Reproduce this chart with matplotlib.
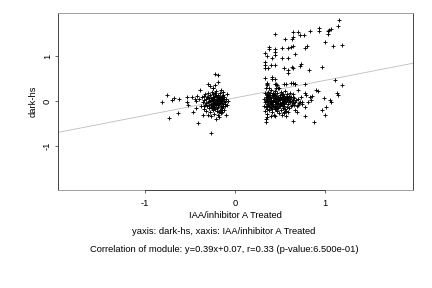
"""Scatter of module genes: dark-hs against IAA/inhibitor A Treated, with fit line."""

import numpy as np
import matplotlib

matplotlib.use("Agg")
import matplotlib.pyplot as plt

plt.rcParams["font.family"] = ["Liberation Sans", "DejaVu Sans"]

# fitted line and labels
slope = 0.39
intercept = 0.07
x_label = "IAA/inhibitor A Treated"
y_label = "dark-hs"
caption_1 = "yaxis: dark-hs, xaxis: IAA/inhibitor A Treated"
caption_2 = "Correlation of module: y=0.39x+0.07, r=0.33 (p-value:6.500e-01)"
x_ticks = [-1, 0, 1]
y_ticks = [-1, 0, 1]
x_range = (-1.97, 1.98)
y_range = (-1.98, 1.96)

# left cluster (x, y)
left_pts = np.array([
    [-0.81, -0.02], [-0.76, 0.13], [-0.74, -0.38], [-0.70, 0.02], [-0.68, 0.07],
    [-0.64, -0.27], [-0.62, 0.04], [-0.54, 0.10], [-0.53, -0.02], [-0.52, -0.08],
    [-0.47, -0.24], [-0.48, 0.10], [-0.45, 0.05], [-0.41, -0.48], [-0.42, 0.12],
    [-0.39, 0.24], [-0.27, -0.72], [-0.22, 0.60], [-0.19, 0.57], [-0.30, 0.39],
    [-0.28, 0.33], [-0.22, 0.36], [-0.19, 0.43], [-0.24, 0.29], [-0.17, 0.17],
    [-0.16, -0.27], [-0.19, -0.30],
    [-0.40, 0.05], [-0.38, -0.10], [-0.37, 0.08], [-0.36, -0.03], [-0.35, 0.12],
    [-0.35, -0.18], [-0.34, 0.02], [-0.33, -0.08], [-0.33, 0.15], [-0.32, -0.22],
    [-0.32, 0.04], [-0.31, -0.12], [-0.31, 0.09], [-0.30, -0.02], [-0.30, -0.30],
    [-0.30, 0.18], [-0.29, 0.06], [-0.29, -0.15], [-0.28, 0.00], [-0.28, -0.25],
    [-0.28, 0.13], [-0.27, -0.06], [-0.27, 0.07], [-0.27, -0.34], [-0.26, 0.03],
    [-0.26, -0.11], [-0.26, 0.20], [-0.25, -0.04], [-0.25, 0.10], [-0.25, -0.20],
    [-0.24, 0.01], [-0.24, -0.08], [-0.24, 0.15], [-0.23, -0.14], [-0.23, 0.05],
    [-0.23, -0.28], [-0.22, -0.02], [-0.22, 0.11], [-0.22, -0.17], [-0.21, 0.03],
    [-0.21, -0.09], [-0.21, 0.22], [-0.20, -0.05], [-0.20, 0.08], [-0.20, -0.23],
    [-0.19, 0.00], [-0.19, -0.13], [-0.19, 0.14], [-0.18, -0.07], [-0.18, 0.05],
    [-0.18, -0.36], [-0.17, -0.02], [-0.17, 0.10], [-0.17, -0.19], [-0.16, 0.02],
    [-0.16, -0.10], [-0.16, 0.24], [-0.15, -0.04], [-0.15, 0.07], [-0.15, -0.25],
    [-0.14, 0.00], [-0.14, -0.14], [-0.14, 0.12], [-0.13, -0.06], [-0.13, 0.04],
    [-0.12, -0.20], [-0.12, 0.09], [-0.11, -0.01], [-0.11, -0.12], [-0.10, 0.05],
    [-0.10, -0.30], [-0.09, -0.08], [-0.09, 0.15], [-0.08, 0.01], [-0.21, -0.40],
    [-0.25, 0.30], [-0.13, 0.20], [-0.36, -0.30], [-0.43, -0.15], [-0.44, 0.00],
    [-0.32, -0.05], [-0.30, 0.08], [-0.29, -0.09], [-0.27, 0.02], [-0.26, -0.16],
    [-0.25, 0.05], [-0.24, -0.12], [-0.23, 0.09], [-0.22, -0.06], [-0.21, 0.13],
    [-0.20, -0.15], [-0.20, 0.02], [-0.19, -0.09], [-0.18, 0.10], [-0.17, -0.05],
    [-0.16, 0.06], [-0.15, -0.15], [-0.14, 0.04], [-0.13, -0.10], [-0.12, 0.00],
    [-0.29, 0.01], [-0.27, -0.13], [-0.23, -0.02], [-0.19, 0.06], [-0.16, -0.20],
    [-0.13, 0.14], [-0.11, -0.06], [-0.34, -0.12], [-0.18, -0.24], [-0.22, 0.18],
])

# right cluster, upper spread
right_sparse = np.array([
    [1.16, 1.80], [1.14, 1.67], [1.07, 1.61], [1.04, 1.58], [1.03, 1.56],
    [1.03, 1.50], [0.93, 1.63], [0.93, 1.57], [0.83, 1.56], [0.77, 1.48],
    [0.70, 1.53], [0.72, 1.47], [0.64, 1.53], [0.65, 1.43], [0.63, 1.39],
    [0.56, 1.39], [0.44, 1.50], [1.00, 1.32], [1.09, 1.22], [1.19, 1.24],
    [0.80, 1.22], [0.78, 1.19], [0.59, 1.18], [0.62, 1.21], [0.65, 1.22],
    [0.52, 1.17], [0.44, 1.16], [0.45, 1.10], [0.38, 1.21], [0.38, 1.16],
    [0.33, 1.06], [0.35, 1.01], [0.41, 0.95], [0.52, 0.95], [0.59, 0.95],
    [0.44, 1.02], [0.67, 1.04], [0.33, 0.87], [0.33, 0.80], [0.40, 0.81],
    [0.37, 0.73], [0.33, 0.74], [0.44, 0.81], [0.54, 0.73], [0.59, 0.69],
    [0.63, 0.76], [0.65, 0.74], [0.59, 0.62], [0.73, 0.82], [0.72, 0.78],
    [0.82, 0.69], [0.97, 0.76], [0.33, 0.52], [0.41, 0.54], [0.41, 0.50],
    [0.44, 0.48], [0.35, 0.39], [0.46, 0.39], [0.54, 0.39], [0.57, 0.39],
    [0.65, 0.41], [0.67, 0.39], [0.78, 0.37], [1.11, 0.47], [1.19, 0.36],
    [1.13, 0.17], [1.15, 0.13], [0.90, 0.24], [0.92, 0.23], [1.06, 0.02],
    [1.07, -0.02], [0.99, 0.07], [1.01, -0.13], [0.97, -0.20], [1.00, -0.31],
    [0.88, -0.46], [0.78, -0.33], [0.64, -0.44], [0.34, -0.41], [0.34, -0.46],
    [0.78, 0.17], [0.79, 0.13], [0.83, 0.10], [0.86, 0.12], [0.84, 0.02],
    [0.81, -0.01], [0.78, -0.13], [0.70, -0.09], [0.67, -0.20], [0.69, -0.24],
    [0.59, -0.24], [0.57, -0.33], [0.55, -0.27], [0.70, 0.24], [0.61, 0.18],
    [0.64, 0.15], [0.44, 0.39], [0.47, 0.36], [0.46, 0.30], [0.35, 0.41],
    [0.35, 0.36], [0.67, 0.38], [0.62, 0.40],
])

# right cluster, dense core
right_core = np.array([
    [0.32, 0.05], [0.32, -0.10], [0.33, 0.18], [0.33, -0.02], [0.33, -0.22],
    [0.34, 0.10], [0.34, -0.14], [0.34, 0.28], [0.35, 0.02], [0.35, -0.07],
    [0.35, 0.15], [0.36, -0.18], [0.36, 0.07], [0.36, -0.28], [0.37, -0.03],
    [0.37, 0.21], [0.37, 0.12], [0.38, -0.11], [0.38, 0.04], [0.38, -0.20],
    [0.39, 0.17], [0.39, -0.05], [0.39, 0.09], [0.40, -0.15], [0.40, 0.00],
    [0.40, 0.25], [0.41, -0.09], [0.41, 0.13], [0.41, -0.24], [0.42, 0.03],
    [0.42, -0.02], [0.42, 0.19], [0.43, -0.13], [0.43, 0.08], [0.43, -0.30],
    [0.44, -0.06], [0.44, 0.14], [0.44, 0.01], [0.45, -0.18], [0.45, 0.06],
    [0.45, 0.23], [0.46, -0.10], [0.46, -0.01], [0.46, 0.11], [0.47, -0.22],
    [0.47, 0.04], [0.47, 0.17], [0.48, -0.07], [0.48, 0.09], [0.48, -0.15],
    [0.49, 0.02], [0.49, 0.28], [0.49, -0.26], [0.50, -0.04], [0.50, 0.13],
    [0.50, -0.12], [0.51, 0.06], [0.51, -0.19], [0.51, 0.20], [0.52, -0.02],
    [0.52, 0.10], [0.52, -0.09], [0.53, 0.03], [0.53, -0.16], [0.53, 0.16],
    [0.54, -0.05], [0.54, 0.07], [0.54, -0.24], [0.55, 0.00], [0.55, 0.12],
    [0.55, -0.11], [0.56, 0.05], [0.56, -0.18], [0.56, 0.22], [0.57, -0.03],
    [0.57, 0.09], [0.58, -0.13], [0.58, 0.02], [0.58, 0.16], [0.59, -0.07],
    [0.59, 0.06], [0.60, -0.16], [0.60, 0.11], [0.61, -0.01], [0.61, 0.04],
    [0.62, -0.10], [0.62, 0.08], [0.63, 0.00], [0.64, -0.05], [0.64, 0.10],
    [0.65, 0.02], [0.66, -0.08], [0.66, 0.06], [0.67, -0.02], [0.68, 0.03],
    [0.69, -0.12], [0.70, 0.05], [0.71, -0.04], [0.72, -0.01], [0.73, 0.08],
    [0.74, -0.06], [0.75, -0.02], [0.36, -0.36], [0.40, -0.34], [0.48, 0.30],
    [0.38, 0.30], [0.44, -0.34], [0.52, -0.30], [0.34, 0.00], [0.45, -0.03],
    [0.39, 0.01], [0.42, 0.11], [0.47, -0.12], [0.50, 0.05], [0.36, 0.13],
    [0.41, -0.17], [0.53, 0.09], [0.57, -0.22],
    [0.35, -0.12], [0.36, 0.02], [0.37, -0.08], [0.38, 0.14], [0.39, -0.14],
    [0.40, 0.06], [0.41, -0.03], [0.42, -0.10], [0.43, 0.02], [0.44, -0.14],
    [0.45, 0.12], [0.46, 0.04], [0.47, -0.05], [0.48, 0.00], [0.49, -0.11],
    [0.50, 0.09], [0.51, -0.06], [0.52, 0.04], [0.53, -0.04], [0.54, 0.01],
    [0.37, 0.05], [0.40, -0.07], [0.43, 0.15], [0.46, -0.18], [0.49, 0.07],
    [0.52, 0.15], [0.55, -0.07], [0.58, 0.08], [0.60, 0.00], [0.63, -0.08],
])


def main():
    fig = plt.figure(figsize=(6, 4), dpi=72)
    ax = fig.add_axes([58 / 432, 1 - 190 / 288, 355 / 432, 177 / 288])

    pts = np.vstack([left_pts, right_sparse, right_core])
    ax.plot(pts[:, 0], pts[:, 1], "+", color="black", markersize=4.3, markeredgewidth=0.9)
    ax.axline((0, intercept), slope=slope, color="#bbbbbb", lw=0.8, zorder=0)

    ax.set_xlim(*x_range)
    ax.set_ylim(*y_range)
    ax.set_xticks(x_ticks)
    ax.set_yticks(y_ticks)
    ax.set_xticklabels([str(t) for t in x_ticks])
    ax.set_yticklabels([str(t) for t in y_ticks], rotation=90, va="center")
    ax.tick_params(axis="x", length=3, width=0.8, pad=6, labelsize=9.4, color="#444444")
    ax.tick_params(axis="y", length=3, width=0.8, pad=3, labelsize=9.4, color="#444444")

    for side in ("top", "bottom"):
        ax.spines[side].set_color("#999999")
    for side in ("left", "right"):
        ax.spines[side].set_color("#333333")
    for sp in ax.spines.values():
        sp.set_linewidth(0.9)
    # R-style axis line running from the first to the last tick
    ax.plot([x_ticks[0], x_ticks[-1]], [y_range[0], y_range[0]], color="#444444",
            lw=1.0, clip_on=False, zorder=5)

    ax.set_ylabel(y_label, fontsize=9.4, labelpad=5)
    fig.text(235.5 / 432, 1 - 215 / 288, x_label, ha="center", va="center", fontsize=9.4)
    fig.text(224 / 432, 1 - 232 / 288, caption_1, ha="center", va="center", fontsize=9.4)
    fig.text(224 / 432, 1 - 249 / 288, caption_2, ha="center", va="center", fontsize=9.4)

    fig.savefig("out.png", dpi=72)
    plt.close(fig)


if __name__ == "__main__":
    main()
